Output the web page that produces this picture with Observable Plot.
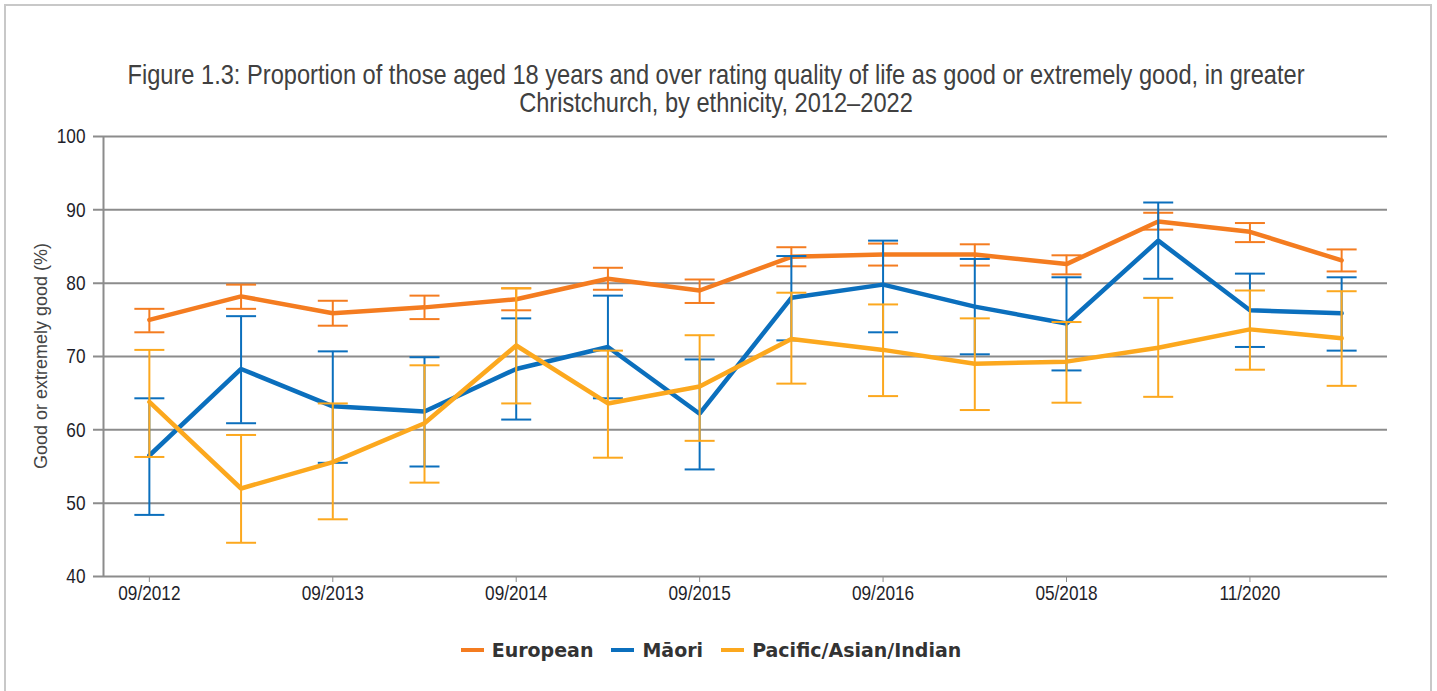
<!DOCTYPE html>
<html><head><meta charset="utf-8">
<script src="https://cdn.jsdelivr.net/npm/d3@7"></script>
<script src="https://cdn.jsdelivr.net/npm/@observablehq/plot@0.6"></script>
<style>
html,body{margin:0;padding:0;background:#fff;}
body{width:1437px;height:691px;position:relative;overflow:hidden;}
#frame{position:absolute;left:4px;top:4px;width:1428px;height:720px;border:2px solid #c8c8c8;box-sizing:border-box;}
#title{position:absolute;left:-84px;top:61px;width:1600px;text-align:center;white-space:nowrap;font-family:"Liberation Sans",Arial,sans-serif;font-size:28px;line-height:28px;color:#404040;transform:scaleX(0.844);transform-origin:800px 0;}
#chart{position:absolute;left:0;top:120px;}
#ylabel{position:absolute;left:40.5px;top:356px;transform:translate(-50%,-50%) rotate(-90deg);white-space:nowrap;font-family:"Liberation Sans",sans-serif;font-size:18px;color:#444;}
#legend{position:absolute;left:0;top:639px;width:1422px;display:flex;justify-content:center;align-items:center;font-family:"DejaVu Sans",sans-serif;font-weight:bold;font-size:19px;color:#333;}
.item{display:flex;align-items:center;margin:0 9px;}
.swatch{width:23px;height:4px;margin-right:8px;}
#chart svg text{fill:#1e1e2a;}
</style></head>
<body>
<div id="frame"></div>
<div id="title">Figure 1.3: Proportion of those aged 18 years and over rating quality of life as good or extremely good, in greater<br>Christchurch, by ethnicity, 2012–2022</div>
<div id="chart"></div>
<div id="ylabel">Good or extremely good (%)</div>
<div id="legend"></div>
<script>
const periods = ["09/2012","04/2013","09/2013","04/2014","09/2014","04/2015","09/2015","04/2016","09/2016","09/2017","05/2018","09/2019","11/2020","05/2022"];
const tickLabels = ["09/2012","09/2013","09/2014","09/2015","09/2016","05/2018","11/2020"];
const yTicks = [40,50,60,70,80,90,100];
const seriesNames = ["European","Māori","Pacific/Asian/Indian"];
const seriesColors = ["#f47c20","#0b6fbd","#fca81e"];

const european     = [75.0,78.2,75.9,76.7,77.8,80.6,79.0,83.6,83.9,83.9,82.6,88.4,87.0,83.1];
const europeanLow  = [73.3,76.5,74.2,75.1,76.3,79.1,77.3,82.3,82.4,82.4,81.2,87.3,85.6,81.6];
const europeanHigh = [76.5,79.8,77.6,78.3,79.3,82.1,80.5,84.9,85.4,85.3,83.8,89.6,88.2,84.6];

const maori        = [56.5,68.3,63.2,62.5,68.3,71.3,62.2,78.0,79.8,76.8,74.5,85.8,76.3,75.9];
const maoriLow     = [48.4,60.9,55.5,55.0,61.4,64.3,54.6,72.2,73.3,70.3,68.1,80.6,71.3,70.8];
const maoriHigh    = [64.3,75.5,70.7,69.9,75.2,78.3,69.6,83.7,85.8,83.3,80.8,91.0,81.3,80.8];

const pacific      = [63.8,52.0,55.6,60.9,71.5,63.6,65.9,72.4,70.9,69.0,69.3,71.2,73.7,72.5];
const pacificLow   = [56.3,44.6,47.8,52.8,63.6,56.2,58.5,66.3,64.6,62.7,63.7,64.5,68.2,66.0];
const pacificHigh  = [70.9,59.3,63.6,68.8,79.3,70.8,72.9,78.7,77.1,75.2,74.7,78.0,79.0,78.9];

const values = [european, maori, pacific];
const lows = [europeanLow, maoriLow, pacificLow];
const highs = [europeanHigh, maoriHigh, pacificHigh];

const rows = seriesNames.flatMap((s, k) => periods.map((p, i) => ({
  i, period: p, series: s, value: values[k][i], low: lows[k][i], high: highs[k][i]
})));

const tickIdx = periods.map((p, i) => i).filter(i => tickLabels.includes(periods[i]));
const cap = {draw(ctx) { ctx.moveTo(-15, 0); ctx.lineTo(15, 0); }};
const grid = "#8c8c8c";

const seriesMarks = seriesNames.flatMap(s => {
  const d = rows.filter(r => r.series === s);
  return [
    Plot.ruleX(d, {x: "i", y1: "low", y2: "high", stroke: "series", strokeWidth: 2}),
    Plot.dot(d, {x: "i", y: "low", symbol: cap, r: 1, stroke: "series", fill: "none", strokeWidth: 2}),
    Plot.dot(d, {x: "i", y: "high", symbol: cap, r: 1, stroke: "series", fill: "none", strokeWidth: 2}),
    Plot.line(d, {x: "i", y: "value", stroke: "series", strokeWidth: 4.5, strokeLinejoin: "miter"})
  ];
});

const chart = Plot.plot({
  width: 1437, height: 500,
  marginLeft: 103, marginRight: 50, marginTop: 16, marginBottom: 44,
  style: {fontFamily: '"Liberation Sans",Arial,sans-serif', fontSize: "21px", color: grid, background: "transparent", overflow: "visible"},
  x: {type: "linear", domain: [-0.5, periods.length - 0.5], ticks: tickIdx, tickFormat: i => periods[i], tickSize: 6, tickPadding: 3, label: null},
  y: {domain: [40, 100], ticks: yTicks, tickSize: 0, tickPadding: 18, label: null},
  color: {domain: seriesNames, range: seriesColors},
  marks: [
    Plot.ruleY(yTicks, {stroke: grid, strokeWidth: 2, insetLeft: -10}),
    Plot.ruleX([-0.5], {stroke: grid, strokeWidth: 2}),
    ...seriesMarks
  ]
});
// condense the axis label glyphs horizontally, keeping each label's anchor in place
chart.querySelectorAll("text").forEach(t => {
  const ax = +t.getAttribute("x") || 0;
  const tr = t.getAttribute("transform") || "";
  t.setAttribute("transform", `${tr} translate(${ax},0) scale(0.82,1) translate(${-ax},0)`);
});
document.getElementById("chart").appendChild(chart);

const legend = document.getElementById("legend");
seriesNames.forEach((s, k) => {
  const item = document.createElement("div");
  item.className = "item";
  const sw = document.createElement("span");
  sw.className = "swatch";
  sw.style.background = seriesColors[k];
  const tx = document.createElement("span");
  tx.textContent = s;
  item.appendChild(sw); item.appendChild(tx);
  legend.appendChild(item);
});
</script>
</body></html>
